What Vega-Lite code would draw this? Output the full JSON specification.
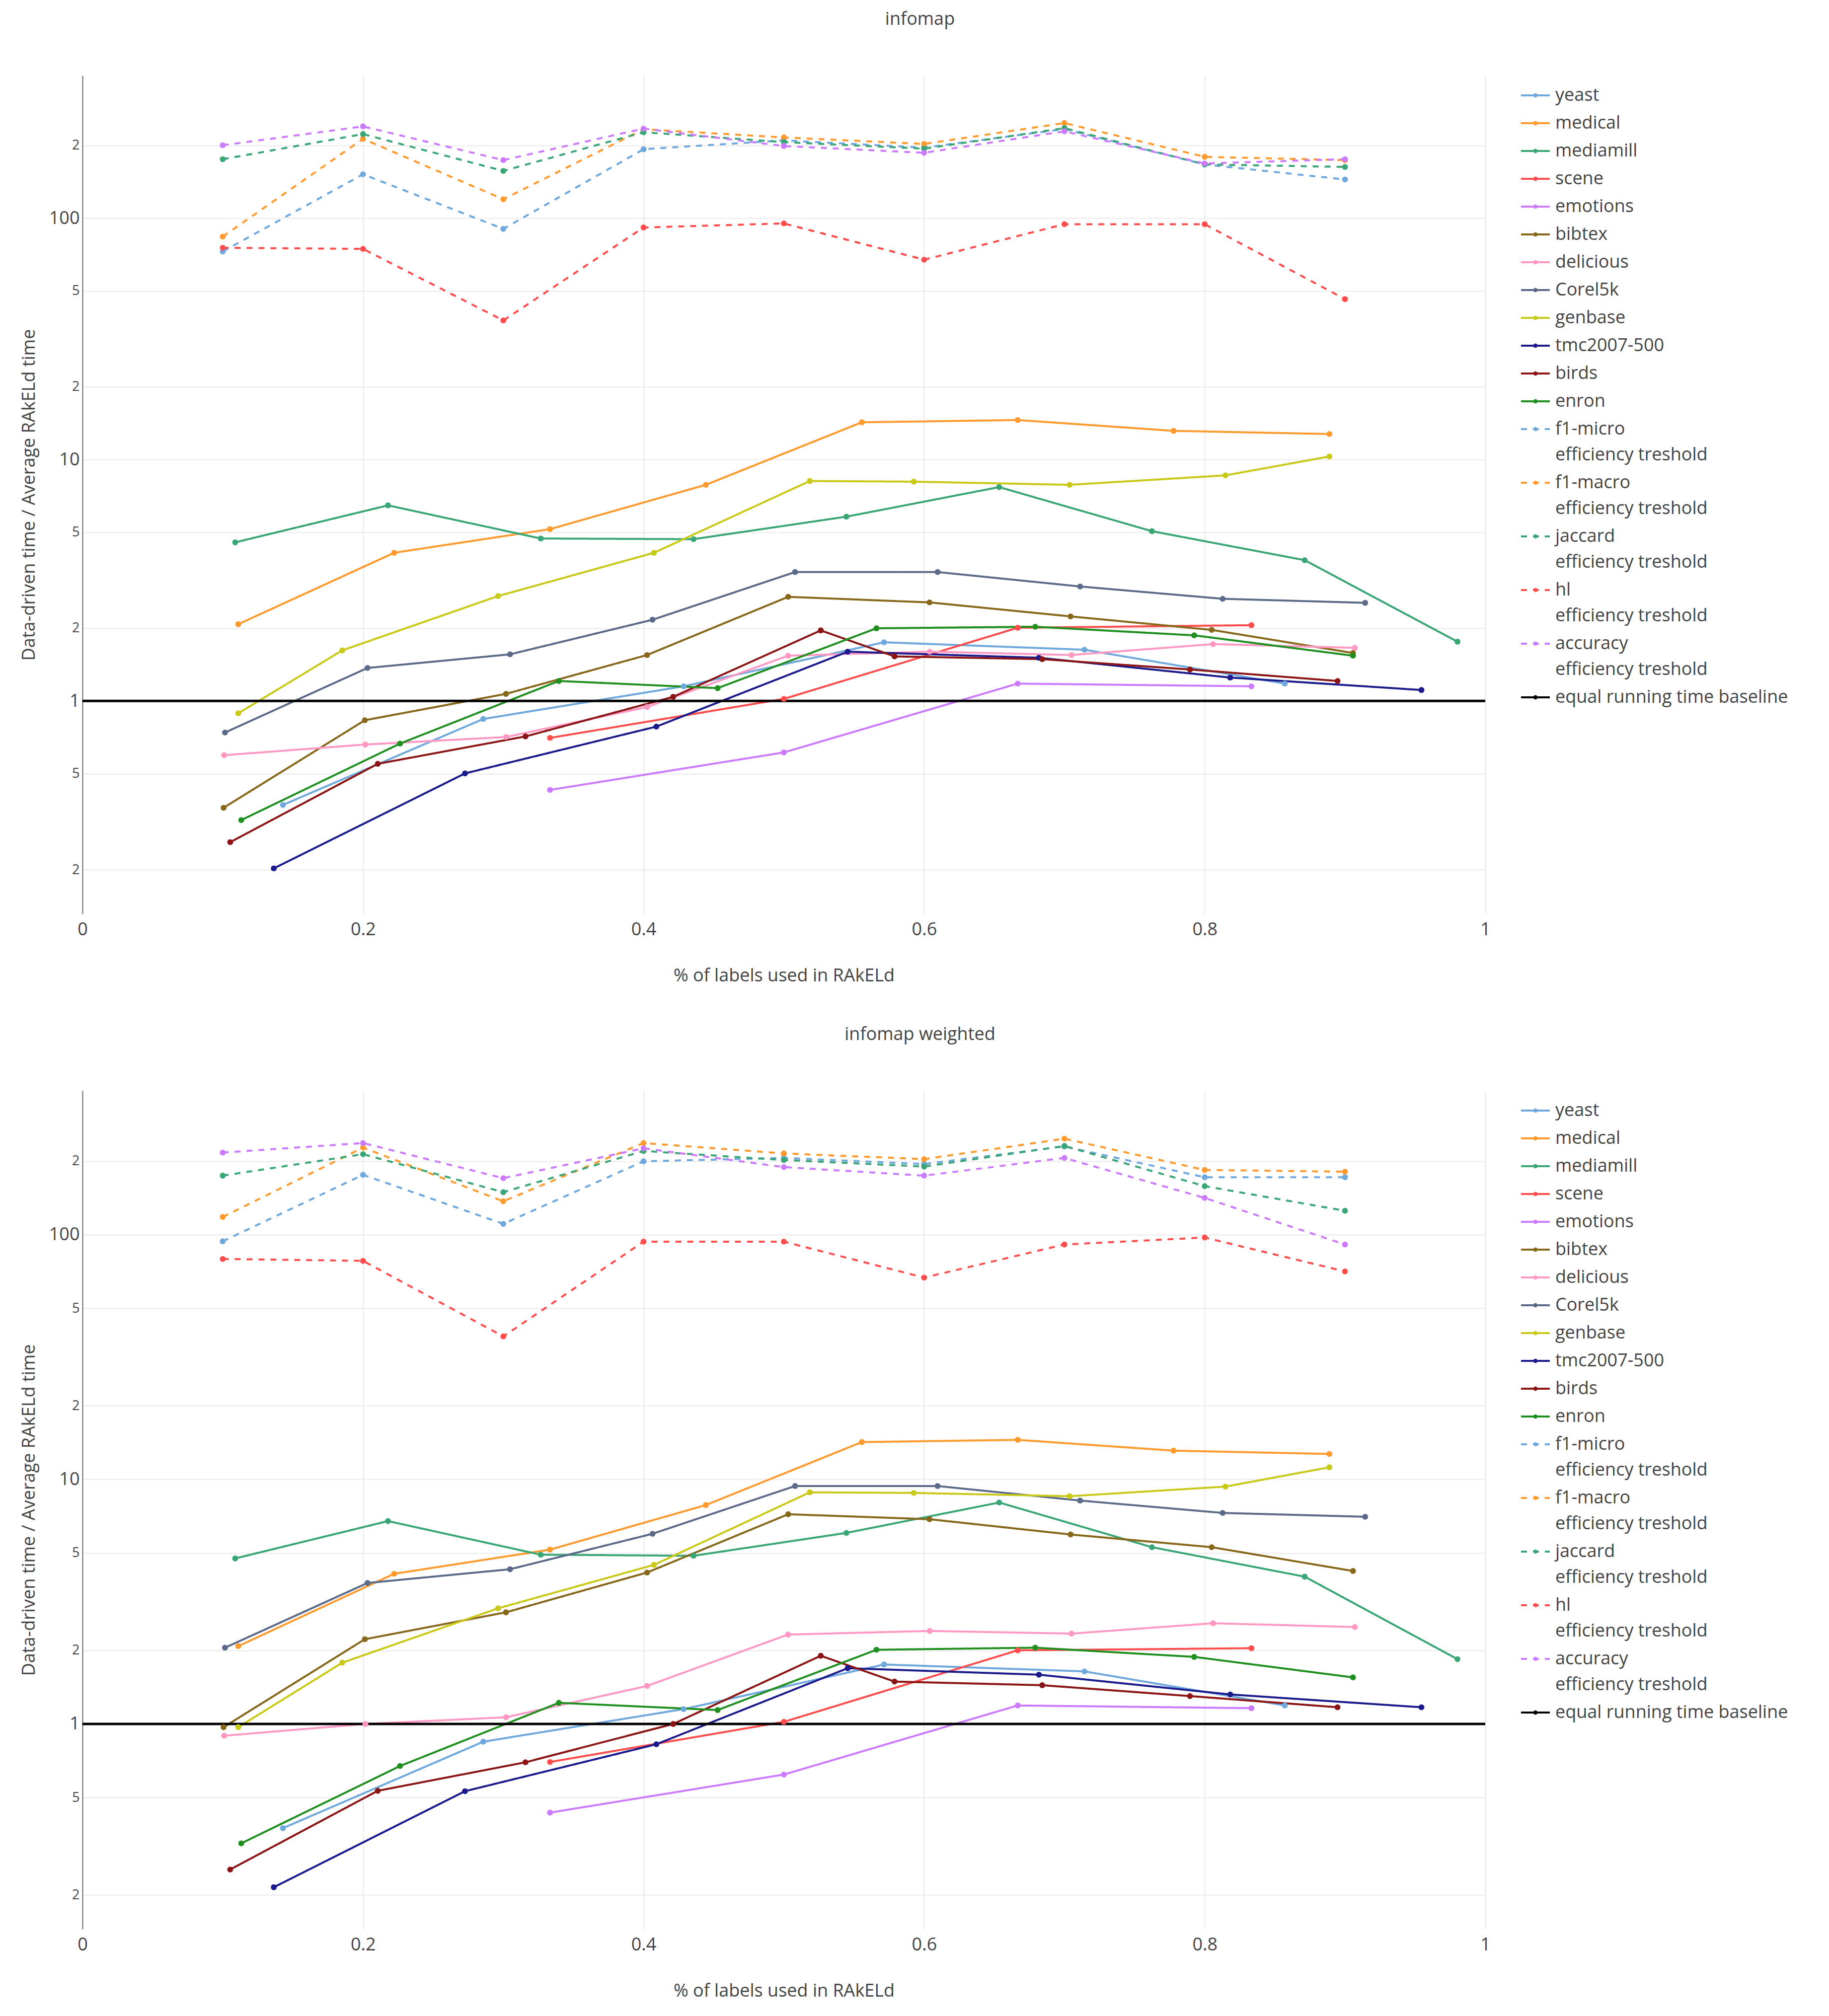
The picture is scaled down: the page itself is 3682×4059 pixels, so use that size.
{
  "$schema": "https://vega.github.io/schema/vega-lite/v6.json",
  "background": "white",
  "padding": {"left": 40, "top": 21, "right": 0, "bottom": 10},
  "spacing": 83,
  "config": {
    "font": "Open Sans",
    "view": {"stroke": null},
    "title": {"fontSize": 36, "fontWeight": "normal", "color": "#444", "anchor": "middle", "offset": 94, "baseline": "alphabetic", "dx": 274},
    "axis": {"labelFontSize": 36, "labelColor": "#444", "titleFontSize": 36, "titleColor": "#444", "titleFontWeight": "normal", "gridColor": "#eeeeee", "gridWidth": 2.6, "ticks": false},
    "axisX": {"domain": false, "labelPadding": 14, "titlePadding": 58, "labelFlush": false},
    "axisY": {"domain": true, "domainColor": "#999", "domainWidth": 3, "labelPadding": 6, "titlePadding": 21},
    "legend": {"orient": "right", "offset": 51, "padding": 9, "labelFontSize": 36, "labelColor": "#444", "labelLimit": 900, "labelOffset": 9, "symbolSize": 3364, "symbolStrokeWidth": 4, "symbolType": "M-0.08,0A0.08,0.08 0 1,1 0.08,0A0.08,0.08 0 1,1 -0.08,0ZM-1,0H1", "rowPadding": 7, "symbolOpacity": 1}
  },
  "resolve": {"scale": {"color": "independent", "strokeDash": "independent"}},
  "datasets": {
    "infomap": [
      {"s": "yeast", "x": 0.1429, "y": 0.371}, {"s": "yeast", "x": 0.2857, "y": 0.842}, {"s": "yeast", "x": 0.4286, "y": 1.15}, {"s": "yeast", "x": 0.5714, "y": 1.75}, {"s": "yeast", "x": 0.7143, "y": 1.63}, {"s": "yeast", "x": 0.8571, "y": 1.18},
      {"s": "medical", "x": 0.1111, "y": 2.08}, {"s": "medical", "x": 0.2222, "y": 4.11}, {"s": "medical", "x": 0.3333, "y": 5.15}, {"s": "medical", "x": 0.4444, "y": 7.86}, {"s": "medical", "x": 0.5556, "y": 14.27}, {"s": "medical", "x": 0.6667, "y": 14.58}, {"s": "medical", "x": 0.7778, "y": 13.15}, {"s": "medical", "x": 0.8889, "y": 12.76},
      {"s": "mediamill", "x": 0.1089, "y": 4.54}, {"s": "mediamill", "x": 0.2178, "y": 6.46}, {"s": "mediamill", "x": 0.3267, "y": 4.71}, {"s": "mediamill", "x": 0.4356, "y": 4.68}, {"s": "mediamill", "x": 0.5446, "y": 5.8}, {"s": "mediamill", "x": 0.6535, "y": 7.69}, {"s": "mediamill", "x": 0.7624, "y": 5.05}, {"s": "mediamill", "x": 0.8713, "y": 3.83}, {"s": "mediamill", "x": 0.9802, "y": 1.76},
      {"s": "scene", "x": 0.3333, "y": 0.703}, {"s": "scene", "x": 0.5, "y": 1.02}, {"s": "scene", "x": 0.6667, "y": 2.01}, {"s": "scene", "x": 0.8333, "y": 2.06},
      {"s": "emotions", "x": 0.3333, "y": 0.428}, {"s": "emotions", "x": 0.5, "y": 0.612}, {"s": "emotions", "x": 0.6667, "y": 1.18}, {"s": "emotions", "x": 0.8333, "y": 1.15},
      {"s": "bibtex", "x": 0.1006, "y": 0.361}, {"s": "bibtex", "x": 0.2013, "y": 0.832}, {"s": "bibtex", "x": 0.3019, "y": 1.07}, {"s": "bibtex", "x": 0.4025, "y": 1.55}, {"s": "bibtex", "x": 0.5031, "y": 2.7}, {"s": "bibtex", "x": 0.6038, "y": 2.56}, {"s": "bibtex", "x": 0.7044, "y": 2.24}, {"s": "bibtex", "x": 0.805, "y": 1.97}, {"s": "bibtex", "x": 0.9057, "y": 1.58},
      {"s": "delicious", "x": 0.101, "y": 0.596}, {"s": "delicious", "x": 0.2017, "y": 0.66}, {"s": "delicious", "x": 0.302, "y": 0.709}, {"s": "delicious", "x": 0.4025, "y": 0.944}, {"s": "delicious", "x": 0.503, "y": 1.54}, {"s": "delicious", "x": 0.604, "y": 1.6}, {"s": "delicious", "x": 0.705, "y": 1.55}, {"s": "delicious", "x": 0.806, "y": 1.72}, {"s": "delicious", "x": 0.907, "y": 1.66},
      {"s": "Corel5k", "x": 0.1016, "y": 0.74}, {"s": "Corel5k", "x": 0.2032, "y": 1.37}, {"s": "Corel5k", "x": 0.3048, "y": 1.56}, {"s": "Corel5k", "x": 0.4064, "y": 2.17}, {"s": "Corel5k", "x": 0.508, "y": 3.42}, {"s": "Corel5k", "x": 0.6096, "y": 3.42}, {"s": "Corel5k", "x": 0.7112, "y": 2.98}, {"s": "Corel5k", "x": 0.8128, "y": 2.65}, {"s": "Corel5k", "x": 0.9144, "y": 2.55},
      {"s": "genbase", "x": 0.1111, "y": 0.889}, {"s": "genbase", "x": 0.1852, "y": 1.62}, {"s": "genbase", "x": 0.2963, "y": 2.72}, {"s": "genbase", "x": 0.4074, "y": 4.11}, {"s": "genbase", "x": 0.5185, "y": 8.15}, {"s": "genbase", "x": 0.5926, "y": 8.1}, {"s": "genbase", "x": 0.7037, "y": 7.86}, {"s": "genbase", "x": 0.8148, "y": 8.6}, {"s": "genbase", "x": 0.8889, "y": 10.3},
      {"s": "tmc2007-500", "x": 0.1364, "y": 0.2025}, {"s": "tmc2007-500", "x": 0.2727, "y": 0.501}, {"s": "tmc2007-500", "x": 0.4091, "y": 0.783}, {"s": "tmc2007-500", "x": 0.5455, "y": 1.6}, {"s": "tmc2007-500", "x": 0.6818, "y": 1.51}, {"s": "tmc2007-500", "x": 0.8182, "y": 1.25}, {"s": "tmc2007-500", "x": 0.9545, "y": 1.11},
      {"s": "birds", "x": 0.1053, "y": 0.26}, {"s": "birds", "x": 0.2105, "y": 0.549}, {"s": "birds", "x": 0.3158, "y": 0.713}, {"s": "birds", "x": 0.4211, "y": 1.04}, {"s": "birds", "x": 0.5263, "y": 1.96}, {"s": "birds", "x": 0.5789, "y": 1.53}, {"s": "birds", "x": 0.6842, "y": 1.49}, {"s": "birds", "x": 0.7895, "y": 1.35}, {"s": "birds", "x": 0.8947, "y": 1.21},
      {"s": "enron", "x": 0.1132, "y": 0.321}, {"s": "enron", "x": 0.2264, "y": 0.666}, {"s": "enron", "x": 0.3396, "y": 1.21}, {"s": "enron", "x": 0.4528, "y": 1.13}, {"s": "enron", "x": 0.566, "y": 2.0}, {"s": "enron", "x": 0.6792, "y": 2.03}, {"s": "enron", "x": 0.7925, "y": 1.87}, {"s": "enron", "x": 0.9057, "y": 1.54},
      {"s": "f1-micro", "x": 0.1, "y": 72.8}, {"s": "f1-micro", "x": 0.2, "y": 152}, {"s": "f1-micro", "x": 0.3, "y": 90.3}, {"s": "f1-micro", "x": 0.4, "y": 193}, {"s": "f1-micro", "x": 0.5, "y": 210}, {"s": "f1-micro", "x": 0.6, "y": 196}, {"s": "f1-micro", "x": 0.7, "y": 234}, {"s": "f1-micro", "x": 0.8, "y": 167}, {"s": "f1-micro", "x": 0.9, "y": 144.6},
      {"s": "f1-macro", "x": 0.1, "y": 83.9}, {"s": "f1-macro", "x": 0.2, "y": 213}, {"s": "f1-macro", "x": 0.3, "y": 119.8}, {"s": "f1-macro", "x": 0.4, "y": 233.6}, {"s": "f1-macro", "x": 0.5, "y": 216}, {"s": "f1-macro", "x": 0.6, "y": 203}, {"s": "f1-macro", "x": 0.7, "y": 247.8}, {"s": "f1-macro", "x": 0.8, "y": 179.5}, {"s": "f1-macro", "x": 0.9, "y": 174},
      {"s": "jaccard", "x": 0.1, "y": 175.5}, {"s": "jaccard", "x": 0.2, "y": 223}, {"s": "jaccard", "x": 0.3, "y": 157}, {"s": "jaccard", "x": 0.4, "y": 227}, {"s": "jaccard", "x": 0.5, "y": 206.6}, {"s": "jaccard", "x": 0.6, "y": 194}, {"s": "jaccard", "x": 0.7, "y": 236}, {"s": "jaccard", "x": 0.8, "y": 167}, {"s": "jaccard", "x": 0.9, "y": 163},
      {"s": "hl", "x": 0.1, "y": 75.4}, {"s": "hl", "x": 0.2, "y": 74.6}, {"s": "hl", "x": 0.3, "y": 37.7}, {"s": "hl", "x": 0.4, "y": 91.5}, {"s": "hl", "x": 0.5, "y": 95.1}, {"s": "hl", "x": 0.6, "y": 67.3}, {"s": "hl", "x": 0.7, "y": 94.4}, {"s": "hl", "x": 0.8, "y": 94.4}, {"s": "hl", "x": 0.9, "y": 46.2},
      {"s": "accuracy", "x": 0.1, "y": 200.5}, {"s": "accuracy", "x": 0.2, "y": 240}, {"s": "accuracy", "x": 0.3, "y": 174}, {"s": "accuracy", "x": 0.4, "y": 235}, {"s": "accuracy", "x": 0.5, "y": 199}, {"s": "accuracy", "x": 0.6, "y": 186.6}, {"s": "accuracy", "x": 0.7, "y": 229}, {"s": "accuracy", "x": 0.8, "y": 168.5}, {"s": "accuracy", "x": 0.9, "y": 175.5},
      {"s": "equal running time baseline", "x": 0, "y": 1}, {"s": "equal running time baseline", "x": 1, "y": 1}
    ],
    "weighted": [
      {"s": "yeast", "x": 0.1429, "y": 0.375}, {"s": "yeast", "x": 0.2857, "y": 0.846}, {"s": "yeast", "x": 0.4286, "y": 1.15}, {"s": "yeast", "x": 0.5714, "y": 1.75}, {"s": "yeast", "x": 0.7143, "y": 1.64}, {"s": "yeast", "x": 0.8571, "y": 1.19},
      {"s": "medical", "x": 0.1111, "y": 2.08}, {"s": "medical", "x": 0.2222, "y": 4.11}, {"s": "medical", "x": 0.3333, "y": 5.16}, {"s": "medical", "x": 0.4444, "y": 7.85}, {"s": "medical", "x": 0.5556, "y": 14.2}, {"s": "medical", "x": 0.6667, "y": 14.5}, {"s": "medical", "x": 0.7778, "y": 13.1}, {"s": "medical", "x": 0.8889, "y": 12.7},
      {"s": "mediamill", "x": 0.1089, "y": 4.75}, {"s": "mediamill", "x": 0.2178, "y": 6.75}, {"s": "mediamill", "x": 0.3267, "y": 4.92}, {"s": "mediamill", "x": 0.4356, "y": 4.87}, {"s": "mediamill", "x": 0.5446, "y": 6.04}, {"s": "mediamill", "x": 0.6535, "y": 8.04}, {"s": "mediamill", "x": 0.7624, "y": 5.28}, {"s": "mediamill", "x": 0.8713, "y": 4.0}, {"s": "mediamill", "x": 0.9802, "y": 1.84},
      {"s": "scene", "x": 0.3333, "y": 0.699}, {"s": "scene", "x": 0.5, "y": 1.02}, {"s": "scene", "x": 0.6667, "y": 2.0}, {"s": "scene", "x": 0.8333, "y": 2.04},
      {"s": "emotions", "x": 0.3333, "y": 0.434}, {"s": "emotions", "x": 0.5, "y": 0.621}, {"s": "emotions", "x": 0.6667, "y": 1.19}, {"s": "emotions", "x": 0.8333, "y": 1.16},
      {"s": "bibtex", "x": 0.1006, "y": 0.97}, {"s": "bibtex", "x": 0.2013, "y": 2.22}, {"s": "bibtex", "x": 0.3019, "y": 2.86}, {"s": "bibtex", "x": 0.4025, "y": 4.16}, {"s": "bibtex", "x": 0.5031, "y": 7.2}, {"s": "bibtex", "x": 0.6038, "y": 6.87}, {"s": "bibtex", "x": 0.7044, "y": 5.95}, {"s": "bibtex", "x": 0.805, "y": 5.28}, {"s": "bibtex", "x": 0.9057, "y": 4.22},
      {"s": "delicious", "x": 0.101, "y": 0.895}, {"s": "delicious", "x": 0.2017, "y": 1.0}, {"s": "delicious", "x": 0.302, "y": 1.065}, {"s": "delicious", "x": 0.4025, "y": 1.43}, {"s": "delicious", "x": 0.503, "y": 2.32}, {"s": "delicious", "x": 0.604, "y": 2.4}, {"s": "delicious", "x": 0.705, "y": 2.34}, {"s": "delicious", "x": 0.806, "y": 2.58}, {"s": "delicious", "x": 0.907, "y": 2.49},
      {"s": "Corel5k", "x": 0.1016, "y": 2.05}, {"s": "Corel5k", "x": 0.2032, "y": 3.77}, {"s": "Corel5k", "x": 0.3048, "y": 4.29}, {"s": "Corel5k", "x": 0.4064, "y": 5.99}, {"s": "Corel5k", "x": 0.508, "y": 9.39}, {"s": "Corel5k", "x": 0.6096, "y": 9.39}, {"s": "Corel5k", "x": 0.7112, "y": 8.19}, {"s": "Corel5k", "x": 0.8128, "y": 7.29}, {"s": "Corel5k", "x": 0.9144, "y": 7.03},
      {"s": "genbase", "x": 0.1111, "y": 0.97}, {"s": "genbase", "x": 0.1852, "y": 1.78}, {"s": "genbase", "x": 0.2963, "y": 2.97}, {"s": "genbase", "x": 0.4074, "y": 4.47}, {"s": "genbase", "x": 0.5185, "y": 8.85}, {"s": "genbase", "x": 0.5926, "y": 8.8}, {"s": "genbase", "x": 0.7037, "y": 8.53}, {"s": "genbase", "x": 0.8148, "y": 9.34}, {"s": "genbase", "x": 0.8889, "y": 11.2},
      {"s": "tmc2007-500", "x": 0.1364, "y": 0.215}, {"s": "tmc2007-500", "x": 0.2727, "y": 0.531}, {"s": "tmc2007-500", "x": 0.4091, "y": 0.826}, {"s": "tmc2007-500", "x": 0.5455, "y": 1.69}, {"s": "tmc2007-500", "x": 0.6818, "y": 1.59}, {"s": "tmc2007-500", "x": 0.8182, "y": 1.32}, {"s": "tmc2007-500", "x": 0.9545, "y": 1.17},
      {"s": "birds", "x": 0.1053, "y": 0.254}, {"s": "birds", "x": 0.2105, "y": 0.533}, {"s": "birds", "x": 0.3158, "y": 0.697}, {"s": "birds", "x": 0.4211, "y": 1.0}, {"s": "birds", "x": 0.5263, "y": 1.9}, {"s": "birds", "x": 0.5789, "y": 1.49}, {"s": "birds", "x": 0.6842, "y": 1.44}, {"s": "birds", "x": 0.7895, "y": 1.3}, {"s": "birds", "x": 0.8947, "y": 1.17},
      {"s": "enron", "x": 0.1132, "y": 0.325}, {"s": "enron", "x": 0.2264, "y": 0.673}, {"s": "enron", "x": 0.3396, "y": 1.22}, {"s": "enron", "x": 0.4528, "y": 1.14}, {"s": "enron", "x": 0.566, "y": 2.01}, {"s": "enron", "x": 0.6792, "y": 2.05}, {"s": "enron", "x": 0.7925, "y": 1.88}, {"s": "enron", "x": 0.9057, "y": 1.55},
      {"s": "f1-micro", "x": 0.1, "y": 94}, {"s": "f1-micro", "x": 0.2, "y": 175.8}, {"s": "f1-micro", "x": 0.3, "y": 110.8}, {"s": "f1-micro", "x": 0.4, "y": 199.6}, {"s": "f1-micro", "x": 0.5, "y": 206}, {"s": "f1-micro", "x": 0.6, "y": 194.5}, {"s": "f1-micro", "x": 0.7, "y": 229.6}, {"s": "f1-micro", "x": 0.8, "y": 171.8}, {"s": "f1-micro", "x": 0.9, "y": 171.8},
      {"s": "f1-macro", "x": 0.1, "y": 118.2}, {"s": "f1-macro", "x": 0.2, "y": 227}, {"s": "f1-macro", "x": 0.3, "y": 137}, {"s": "f1-macro", "x": 0.4, "y": 237}, {"s": "f1-macro", "x": 0.5, "y": 215}, {"s": "f1-macro", "x": 0.6, "y": 203.7}, {"s": "f1-macro", "x": 0.7, "y": 247}, {"s": "f1-macro", "x": 0.8, "y": 184}, {"s": "f1-macro", "x": 0.9, "y": 181},
      {"s": "jaccard", "x": 0.1, "y": 174.4}, {"s": "jaccard", "x": 0.2, "y": 213.4}, {"s": "jaccard", "x": 0.3, "y": 149.3}, {"s": "jaccard", "x": 0.4, "y": 220}, {"s": "jaccard", "x": 0.5, "y": 202}, {"s": "jaccard", "x": 0.6, "y": 190}, {"s": "jaccard", "x": 0.7, "y": 230.6}, {"s": "jaccard", "x": 0.8, "y": 158}, {"s": "jaccard", "x": 0.9, "y": 125.3},
      {"s": "hl", "x": 0.1, "y": 79.6}, {"s": "hl", "x": 0.2, "y": 78.2}, {"s": "hl", "x": 0.3, "y": 38.4}, {"s": "hl", "x": 0.4, "y": 93.7}, {"s": "hl", "x": 0.5, "y": 93.7}, {"s": "hl", "x": 0.6, "y": 66.8}, {"s": "hl", "x": 0.7, "y": 91.2}, {"s": "hl", "x": 0.8, "y": 97.4}, {"s": "hl", "x": 0.9, "y": 70.8},
      {"s": "accuracy", "x": 0.1, "y": 216.7}, {"s": "accuracy", "x": 0.2, "y": 237}, {"s": "accuracy", "x": 0.3, "y": 170.3}, {"s": "accuracy", "x": 0.4, "y": 225.6}, {"s": "accuracy", "x": 0.5, "y": 189}, {"s": "accuracy", "x": 0.6, "y": 174.4}, {"s": "accuracy", "x": 0.7, "y": 206}, {"s": "accuracy", "x": 0.8, "y": 141.4}, {"s": "accuracy", "x": 0.9, "y": 91.2},
      {"s": "equal running time baseline", "x": 0, "y": 1}, {"s": "equal running time baseline", "x": 1, "y": 1}
    ]
  },
  "vconcat": [
    {
      "title": "infomap",
      "width": 2824,
      "height": 1688,
      "data": {"name": "infomap"},
      "encoding": {
        "x": {"field": "x", "type": "quantitative", "scale": {"domain": [0, 1], "nice": false, "zero": false}, "axis": {"title": "% of labels used in RAkELd", "values": [0, 0.2, 0.4, 0.6, 0.8, 1], "format": "~g"}},
        "y": {"field": "y", "type": "quantitative", "scale": {"type": "log", "domain": [0.1312, 390], "nice": false},
          "axis": {"title": "Data-driven time / Average RAkELd time", "values": [0.2, 0.5, 1, 2, 5, 10, 20, 50, 100, 200],
            "labelExpr": "abs(log(datum.value)/LN10 - round(log(datum.value)/LN10)) < 1e-6 ? format(datum.value, 'd') : format(round(datum.value / pow(10, floor(log(datum.value)/LN10 + 1e-6))), 'd')",
            "labelFontSize": {"condition": {"test": "abs(log(datum.value)/LN10 - round(log(datum.value)/LN10)) < 1e-6", "value": 36}, "value": 27}}},
        "color": {"field": "s", "type": "nominal",
          "scale": {"domain": ["yeast", "medical", "mediamill", "scene", "emotions", "bibtex", "delicious", "Corel5k", "genbase", "tmc2007-500", "birds", "enron", "f1-micro", "f1-macro", "jaccard", "hl", "accuracy", "equal running time baseline"],
            "range": ["#6fa8dc", "#ff9a2e", "#3aa676", "#ff4d4d", "#cc7aff", "#87671a", "#ff99c4", "#5c6a89", "#c9c91a", "#1a1a8c", "#8b1515", "#1f8f1f", "#6fa8dc", "#ff9a2e", "#3aa676", "#ff4d4d", "#cc7aff", "#000000"]},
          "legend": {"title": null, "labelExpr": "indexof(['f1-micro','f1-macro','jaccard','hl','accuracy'], datum.label) >= 0 ? [datum.label, 'efficiency treshold'] : datum.label", "encode": {"labels": {"update": {"lineHeight": {"value": 52}}}}}},
        "strokeDash": {"field": "s", "type": "nominal",
          "scale": {"domain": ["yeast", "medical", "mediamill", "scene", "emotions", "bibtex", "delicious", "Corel5k", "genbase", "tmc2007-500", "birds", "enron", "f1-micro", "f1-macro", "jaccard", "hl", "accuracy", "equal running time baseline"],
            "range": [[1, 0], [1, 0], [1, 0], [1, 0], [1, 0], [1, 0], [1, 0], [1, 0], [1, 0], [1, 0], [1, 0], [1, 0], [12, 12], [12, 12], [12, 12], [12, 12], [12, 12], [1, 0]]},
          "legend": {"title": null, "labelExpr": "indexof(['f1-micro','f1-macro','jaccard','hl','accuracy'], datum.label) >= 0 ? [datum.label, 'efficiency treshold'] : datum.label", "encode": {"labels": {"update": {"lineHeight": {"value": 52}}}}}}
      },
      "layer": [
        {"transform": [{"filter": "datum.s != 'equal running time baseline'"}], "mark": {"type": "line", "strokeWidth": 4}},
        {"transform": [{"filter": "datum.s == 'equal running time baseline'"}], "mark": {"type": "line", "strokeWidth": 5}},
        {"transform": [{"filter": "datum.s != 'equal running time baseline'"}], "mark": {"type": "point", "filled": true, "size": 140, "opacity": 1}}
      ]
    },
    {
      "title": "infomap weighted",
      "width": 2824,
      "height": 1688,
      "data": {"name": "weighted"},
      "encoding": {
        "x": {"field": "x", "type": "quantitative", "scale": {"domain": [0, 1], "nice": false, "zero": false}, "axis": {"title": "% of labels used in RAkELd", "values": [0, 0.2, 0.4, 0.6, 0.8, 1], "format": "~g"}},
        "y": {"field": "y", "type": "quantitative", "scale": {"type": "log", "domain": [0.145, 388], "nice": false},
          "axis": {"title": "Data-driven time / Average RAkELd time", "values": [0.2, 0.5, 1, 2, 5, 10, 20, 50, 100, 200],
            "labelExpr": "abs(log(datum.value)/LN10 - round(log(datum.value)/LN10)) < 1e-6 ? format(datum.value, 'd') : format(round(datum.value / pow(10, floor(log(datum.value)/LN10 + 1e-6))), 'd')",
            "labelFontSize": {"condition": {"test": "abs(log(datum.value)/LN10 - round(log(datum.value)/LN10)) < 1e-6", "value": 36}, "value": 27}}},
        "color": {"field": "s", "type": "nominal",
          "scale": {"domain": ["yeast", "medical", "mediamill", "scene", "emotions", "bibtex", "delicious", "Corel5k", "genbase", "tmc2007-500", "birds", "enron", "f1-micro", "f1-macro", "jaccard", "hl", "accuracy", "equal running time baseline"],
            "range": ["#6fa8dc", "#ff9a2e", "#3aa676", "#ff4d4d", "#cc7aff", "#87671a", "#ff99c4", "#5c6a89", "#c9c91a", "#1a1a8c", "#8b1515", "#1f8f1f", "#6fa8dc", "#ff9a2e", "#3aa676", "#ff4d4d", "#cc7aff", "#000000"]},
          "legend": {"title": null, "labelExpr": "indexof(['f1-micro','f1-macro','jaccard','hl','accuracy'], datum.label) >= 0 ? [datum.label, 'efficiency treshold'] : datum.label", "encode": {"labels": {"update": {"lineHeight": {"value": 52}}}}}},
        "strokeDash": {"field": "s", "type": "nominal",
          "scale": {"domain": ["yeast", "medical", "mediamill", "scene", "emotions", "bibtex", "delicious", "Corel5k", "genbase", "tmc2007-500", "birds", "enron", "f1-micro", "f1-macro", "jaccard", "hl", "accuracy", "equal running time baseline"],
            "range": [[1, 0], [1, 0], [1, 0], [1, 0], [1, 0], [1, 0], [1, 0], [1, 0], [1, 0], [1, 0], [1, 0], [1, 0], [12, 12], [12, 12], [12, 12], [12, 12], [12, 12], [1, 0]]},
          "legend": {"title": null, "labelExpr": "indexof(['f1-micro','f1-macro','jaccard','hl','accuracy'], datum.label) >= 0 ? [datum.label, 'efficiency treshold'] : datum.label", "encode": {"labels": {"update": {"lineHeight": {"value": 52}}}}}}
      },
      "layer": [
        {"transform": [{"filter": "datum.s != 'equal running time baseline'"}], "mark": {"type": "line", "strokeWidth": 4}},
        {"transform": [{"filter": "datum.s == 'equal running time baseline'"}], "mark": {"type": "line", "strokeWidth": 5}},
        {"transform": [{"filter": "datum.s != 'equal running time baseline'"}], "mark": {"type": "point", "filled": true, "size": 140, "opacity": 1}}
      ]
    }
  ]
}
